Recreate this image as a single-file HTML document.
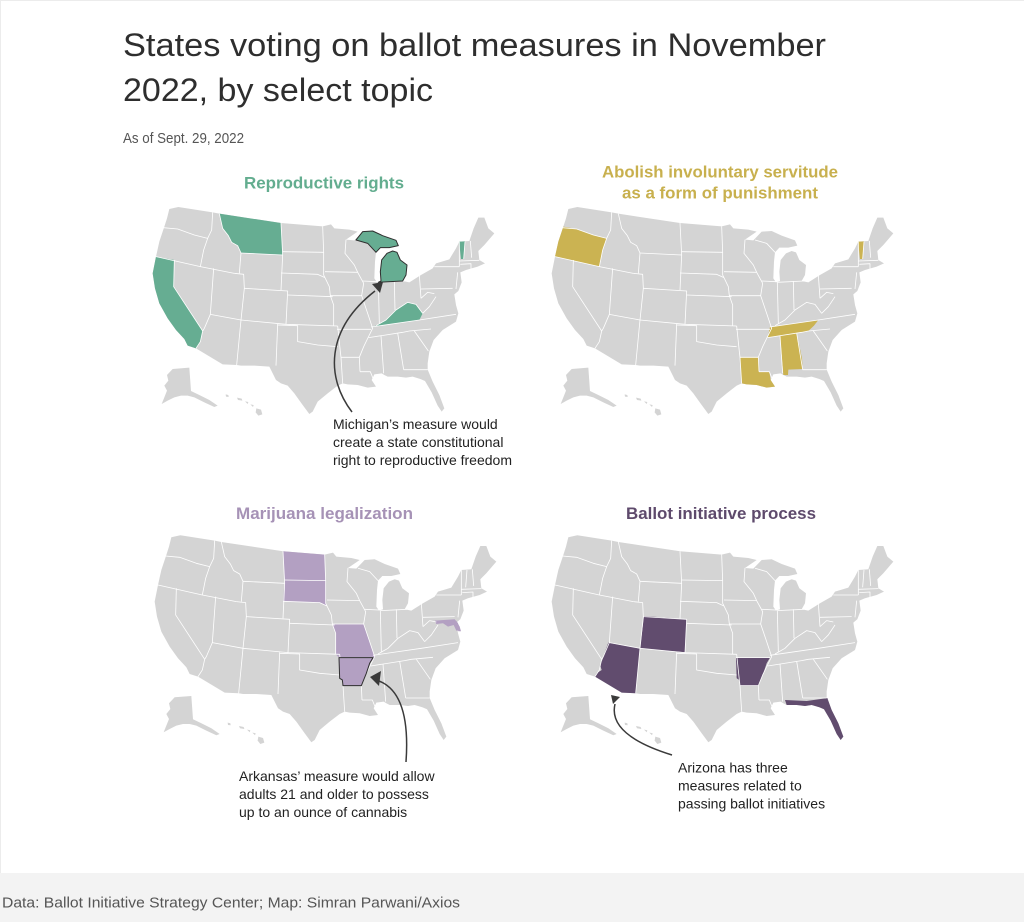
<!DOCTYPE html>
<html><head><meta charset="utf-8"><style>
html,body{margin:0;padding:0;background:#fff;}
svg{display:block;}
text{font-family:"Liberation Sans",Arial,sans-serif;}
</style></head><body>
<svg width="1024" height="922" viewBox="0 0 1024 922" xmlns="http://www.w3.org/2000/svg">
<defs>
<g id="land" fill="#d4d4d4">
<path d="M85,42 L112,36 L215,52 L235,56 L420,84 L545,94 L570,88 L580,100 L625,104 L650,110 L615,134 L640,136 L665,110 L695,108 L725,122 L765,136 L772,152 L745,158 L718,158 L705,172 L702,200 L700,250 L708,262 L720,258 L718,230 L722,195 L738,175 L755,168 L768,172 L778,195 L798,210 L795,240 L785,258 L805,262 L840,240 L875,220 L885,205 L925,193 L945,160 L955,140 L985,138 L998,100 L1012,68 L1030,68 L1042,100 L1060,115 L1030,150 L1012,168 L1015,195 L1032,205 L1010,215 L975,225 L958,232 L962,262 L952,288 L940,298 L945,330 L952,355 L945,380 L905,405 L878,435 L865,470 L860,505 L860,524 L875,560 L895,600 L910,640 L902,650 L890,632 L872,592 L852,558 L838,552 L815,545 L795,548 L770,545 L740,545 L730,540 L722,535 L700,538 L692,555 L705,575 L680,578 L650,570 L620,568 L605,565 L590,572 L560,595 L530,620 L515,650 L505,657 L485,630 L460,595 L440,572 L420,565 L405,555 L385,515 L340,512 L300,512 L287,510 L245,508 L165,460 L140,452 L130,432 L105,405 L80,370 L55,325 L42,280 L35,235 L45,185 L55,140 L70,95 L78,70 Z"/>
<path d="M95,522 L145,518 L150,588 L175,600 L205,615 L230,632 L220,636 L190,622 L160,607 L140,602 L120,602 L100,607 L80,617 L62,627 L70,607 L78,587 L70,572 L82,557 L78,540 Z"/>
<path d="M254,598 L262,600 L263,606 L255,605 Z"/>
<path d="M288,608 L302,611 L304,617 L291,615 Z"/>
<path d="M312,619 L322,621 L320,627 Z"/>
<path d="M328,628 L338,630 L336,636 Z"/>
<path d="M346,640 L360,644 L364,658 L352,662 L344,652 Z"/>
</g>
<g id="borders" fill="none" stroke="#ffffff" stroke-width="2.4" stroke-linejoin="round">
<path fill="none" d="M55,97 L110,102 L160,120 L200,130"/>
<path fill="none" d="M215,52 L212,105 L200,130 L188,165 L178,215"/>
<path fill="none" d="M45,185 L178,215 L280,235"/>
<path fill="none" d="M100,195 L98,275 L185,408 L178,440 L165,460"/>
<path fill="none" d="M218,220 L208,358 L190,400 L185,408"/>
<path fill="none" d="M235,56 L245,100 L262,122 L272,142 L290,152 L300,174 L295,235"/>
<path fill="none" d="M300,174 L425,180"/>
<path fill="none" d="M420,84 L425,180 L420,285"/>
<path fill="none" d="M280,235 L308,238 L310,280 L300,375"/>
<path fill="none" d="M310,280 L440,288 L435,388"/>
<path fill="none" d="M208,358 L300,375 L435,388 L590,393"/>
<path fill="none" d="M300,375 L287,510"/>
<path fill="none" d="M410,387 L405,512"/>
<path fill="none" d="M410,390 L470,392 L470,440 L530,450 L590,455"/>
<path fill="none" d="M425,170 L548,172"/>
<path fill="none" d="M420,234 L530,238 L552,248"/>
<path fill="none" d="M440,300 L575,305"/>
<path fill="none" d="M552,248 L565,275 L568,302 L578,330 L578,393"/>
<path fill="none" d="M545,94 L548,172 L548,240 L552,248"/>
<path fill="none" d="M552,230 L650,232"/>
<path fill="none" d="M615,134 L612,175 L640,210 L650,232"/>
<path fill="none" d="M568,302 L662,302"/>
<path fill="none" d="M650,232 L668,265 L662,302 L680,355 L695,400 L685,420 L668,455 L655,487 L657,530"/>
<path fill="none" d="M665,258 L708,260"/>
<path fill="none" d="M645,135 L680,145 L705,172"/>
<path fill="none" d="M712,262 L715,385"/>
<path fill="none" d="M760,258 L762,345"/>
<path fill="none" d="M712,262 L792,258"/>
<path fill="none" d="M835,240 L840,310"/>
<path fill="none" d="M880,215 L955,215"/>
<path fill="none" d="M705,392 L735,375 L765,345 L800,322 L825,328 L845,355"/>
<path fill="none" d="M840,310 L860,292 L880,296"/>
<path fill="none" d="M845,355 L865,335 L885,305"/>
<path fill="none" d="M690,396 L835,375 L945,358"/>
<path fill="none" d="M683,428 L785,412 L805,408 L870,402"/>
<path fill="none" d="M720,422 L728,535"/>
<path fill="none" d="M770,414 L788,524"/>
<path fill="none" d="M788,524 L860,524"/>
<path fill="none" d="M820,408 L862,468"/>
<path fill="none" d="M588,403 L690,403"/>
<path fill="none" d="M590,393 L598,470 L600,487 L605,565"/>
<path fill="none" d="M600,487 L655,487"/>
<path fill="none" d="M657,530 L688,530 L700,560"/>
<path fill="none" d="M840,282 L935,280"/>
<path fill="none" d="M950,232 L945,282"/>
<path fill="none" d="M955,140 L955,215"/>
<path fill="none" d="M972,140 L968,192"/>
<path fill="none" d="M988,138 L992,188"/>
<path fill="none" d="M955,198 L1015,196"/>
<path fill="none" d="M958,208 L990,206 L990,222"/>
</g>
</defs>

<rect x="0" y="0" width="1024" height="922" fill="#ffffff"/>
<path d="M0.5,873 L0.5,0.5 L1024,0.5" fill="none" stroke="#ececec" stroke-width="1"/>

<!-- Title -->
<text x="123" y="56" font-size="32" fill="#2e2e2e" textLength="703" lengthAdjust="spacingAndGlyphs">States voting on ballot measures in November</text>
<text x="123" y="101" font-size="32" fill="#2e2e2e" textLength="310" lengthAdjust="spacingAndGlyphs">2022, by select topic</text>
<text x="123" y="143" font-size="15" fill="#555555" textLength="121" lengthAdjust="spacingAndGlyphs">As of Sept. 29, 2022</text>

<!-- Section titles -->
<text x="244" y="188.5" font-size="17" font-weight="bold" fill="#63ad8f" textLength="160" lengthAdjust="spacingAndGlyphs">Reproductive rights</text>
<text x="602" y="177.5" font-size="17" font-weight="bold" fill="#c8b04e" textLength="236" lengthAdjust="spacingAndGlyphs">Abolish involuntary servitude</text>
<text x="622" y="198.5" font-size="17" font-weight="bold" fill="#c8b04e" textLength="196" lengthAdjust="spacingAndGlyphs">as a form of punishment</text>
<text x="236" y="519" font-size="17" font-weight="bold" fill="#a692b6" textLength="177" lengthAdjust="spacingAndGlyphs">Marijuana legalization</text>
<text x="626" y="519" font-size="17" font-weight="bold" fill="#5e4a6c" textLength="190" lengthAdjust="spacingAndGlyphs">Ballot initiative process</text>

<!-- Map 1 -->
<g transform="translate(141,195) scale(0.33333)">
<use href="#land"/>
<g fill="#66ad92">
<path d="M235,56 L420,84 L425,180 L300,174 L290,152 L272,142 L262,122 L245,100 Z"/>
<path d="M45,185 L100,195 L98,275 L185,408 L178,440 L165,460 L140,452 L130,432 L105,405 L80,370 L55,325 L42,280 L35,235 Z"/>
<path d="M690,396 L705,392 L735,375 L765,345 L800,322 L825,328 L845,355 L835,375 Z"/>
<path d="M955,140 L972,139 L970,165 L968,192 L960,192 L957,165 Z"/>
</g>
<use href="#borders"/>
<g fill="#66ad92" stroke="#2f2f2f" stroke-width="3" stroke-linejoin="round">
<path d="M645,135 L665,110 L695,108 L725,122 L765,136 L772,152 L745,158 L718,158 L705,172 L680,145 Z"/>
<path d="M712,262 L720,258 L718,230 L722,195 L738,175 L755,168 L768,172 L778,195 L798,210 L795,240 L785,258 Z"/>
</g>
</g>

<!-- Map 2 -->
<g transform="translate(540,195) scale(0.33333)">
<use href="#land"/>
<g fill="#cbb352">
<path d="M70,95 L110,102 L160,120 L200,130 L188,165 L178,215 L45,185 L55,140 Z"/>
<path d="M955,140 L972,139 L970,165 L968,192 L960,192 L957,165 Z"/>
<path d="M690,396 L835,375 L822,392 L805,408 L785,412 L683,428 Z"/>
<path d="M720,422 L770,414 L786,490 L788,522 L745,524 L744,540 L730,540 Z"/>
<path d="M600,487 L655,487 L657,530 L688,530 L692,555 L705,575 L680,578 L650,570 L620,568 L605,565 Z"/>
</g>
<use href="#borders"/>
</g>

<!-- Map 3 -->
<g transform="translate(143,523.3) scale(0.33333)">
<use href="#land"/>
<g fill="#b3a0c2">
<path d="M420,84 L545,94 L548,172 L425,170 Z"/>
<path d="M425,170 L548,172 L548,240 L552,248 L530,238 L420,234 Z"/>
<path d="M568,302 L662,302 L680,355 L695,400 L688,415 L680,403 L588,403 L578,393 L578,330 Z"/>
<path d="M875,292 L935,288 L945,300 L950,322 L940,322 L932,305 L915,310 L900,300 L880,302 Z"/>
<path d="M940,292 L950,310 L954,324 L946,324 Z"/>
</g>
<use href="#borders"/>
<path d="M588,403 L690,403 L680,420 L670,450 L655,487 L600,487 L598,470 L590,465 Z" fill="#b3a0c2" stroke="#2f2f2f" stroke-width="3" stroke-linejoin="round"/>
</g>

<!-- Map 4 -->
<g transform="translate(540,523.3) scale(0.33333)">
<use href="#land"/>
<g fill="#614c6e">
<path d="M205,358 L300,375 L287,510 L245,508 L165,460 L170,450 L185,440 L180,425 L188,408 L195,385 Z"/>
<path d="M312,278 L440,288 L435,387 L300,376 Z"/>
<path d="M588,403 L690,403 L680,420 L670,450 L655,487 L600,487 L598,470 L590,465 Z"/>
<path d="M735,530 L800,533 L850,526 L862,524 L875,560 L895,600 L910,640 L902,650 L890,632 L872,592 L852,558 L838,552 L815,545 L795,548 L770,545 L740,545 Z"/>
</g>
<use href="#borders"/>
</g>

<!-- Arrows -->
<g fill="none" stroke="#3a3a3a" stroke-width="1.5">
<path d="M352,412 C326,378 325,330 375,291"/>
<path d="M406,762 C409,720 402,690 379,681"/>
<path d="M672,755 C630,742 610,725 615,704"/>
</g>
<g fill="#3a3a3a">
<path d="M383,282 L372,284 L380,293 Z"/>
<path d="M370,677 L381,671 L379,686 Z"/>
<path d="M611,695 L620,697 L613,704 Z"/>
</g>

<!-- Annotations -->
<g font-size="14" fill="#222222">
<text x="333" y="429">Michigan’s measure would</text>
<text x="333" y="447">create a state constitutional</text>
<text x="333" y="465">right to reproductive freedom</text>
<text x="239" y="781">Arkansas’ measure would allow</text>
<text x="239" y="799">adults 21 and older to possess</text>
<text x="239" y="817">up to an ounce of cannabis</text>
<text x="678" y="772.5">Arizona has three</text>
<text x="678" y="790.5">measures related to</text>
<text x="678" y="808.5">passing ballot initiatives</text>
</g>

<!-- Footer -->
<rect x="0" y="873" width="1024" height="49" fill="#f3f3f3"/>
<text x="2" y="907.5" font-size="15" fill="#555555" textLength="458" lengthAdjust="spacingAndGlyphs">Data: Ballot Initiative Strategy Center; Map: Simran Parwani/Axios</text>
</svg>
</body></html>
